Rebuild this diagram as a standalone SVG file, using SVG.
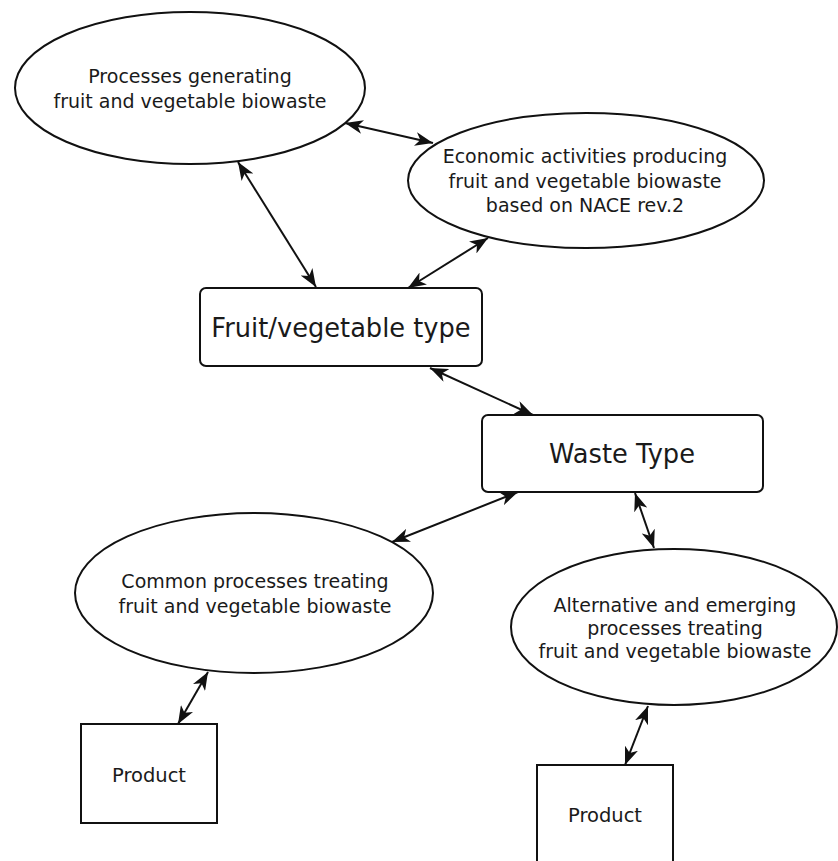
<svg xmlns="http://www.w3.org/2000/svg" width="838" height="861" viewBox="0 0 838 861">
  <style>
    .shape { fill: #ffffff; stroke: #111111; stroke-width: 2; }
    .label { font-family: "DejaVu Sans", "Open Sans", sans-serif; fill: #1a1a1a; text-anchor: middle; }
    .small { font-size: 19px; }
    .big { font-size: 25.7px; }
    .waste { font-size: 25.7px; }
    .mid { font-size: 19.5px; }
    .link { stroke: #111111; stroke-width: 2; fill: none; marker-start: url(#head); marker-end: url(#head); }
  </style>
  <defs>
    <marker id="head" viewBox="0 0 18 14" refX="18" refY="7" markerWidth="18" markerHeight="14" markerUnits="userSpaceOnUse" orient="auto-start-reverse">
      <path d="M0,0 L18,7 L0,14 L5,7 z" fill="#111111"/>
    </marker>
  </defs>
  <rect width="838" height="861" fill="#ffffff"/>

  <g id="processes-generating">
    <ellipse class="shape" cx="190" cy="88" rx="175" ry="76"/>
    <text class="label small" x="190" y="83">Processes generating</text>
    <text class="label small" x="190" y="108">fruit and vegetable biowaste</text>
  </g>

  <g id="economic-activities">
    <ellipse class="shape" cx="586" cy="180.5" rx="178" ry="67.5"/>
    <text class="label small" x="585" y="163">Economic activities producing</text>
    <text class="label small" x="585" y="188">fruit and vegetable biowaste</text>
    <text class="label small" x="585" y="212">based on NACE rev.2</text>
  </g>

  <g id="fruit-vegetable-type">
    <rect class="shape" x="200" y="288" width="282" height="78" rx="6"/>
    <text class="label big" x="341" y="337">Fruit/vegetable type</text>
  </g>

  <g id="waste-type">
    <rect class="shape" x="482" y="415" width="281" height="77" rx="6"/>
    <text class="label waste" x="622" y="463">Waste Type</text>
  </g>

  <g id="common-processes">
    <ellipse class="shape" cx="254" cy="593" rx="179" ry="80"/>
    <text class="label small" x="255" y="588">Common processes treating</text>
    <text class="label small" x="255" y="613">fruit and vegetable biowaste</text>
  </g>

  <g id="alternative-processes">
    <ellipse class="shape" cx="674" cy="627" rx="163" ry="78"/>
    <text class="label small" x="675" y="612">Alternative and emerging</text>
    <text class="label small" x="675" y="635">processes treating</text>
    <text class="label small" x="675" y="658">fruit and vegetable biowaste</text>
  </g>

  <g id="product-common">
    <rect class="shape" x="81" y="724" width="136" height="99"/>
    <text class="label mid" x="149" y="782">Product</text>
  </g>

  <g id="product-alternative">
    <rect class="shape" x="537" y="765" width="136" height="110"/>
    <text class="label mid" x="605" y="822">Product</text>
  </g>

  <g id="connectors">
    <line class="link" x1="345" y1="123" x2="433" y2="143"/>
    <line class="link" x1="238" y1="162" x2="316" y2="287"/>
    <line class="link" x1="488" y1="238" x2="408" y2="288"/>
    <line class="link" x1="430" y1="368" x2="533" y2="415"/>
    <line class="link" x1="518" y1="492" x2="392" y2="542"/>
    <line class="link" x1="635" y1="493" x2="654" y2="548"/>
    <line class="link" x1="208" y1="672" x2="178" y2="724"/>
    <line class="link" x1="648" y1="706" x2="625" y2="765"/>
  </g>
</svg>
